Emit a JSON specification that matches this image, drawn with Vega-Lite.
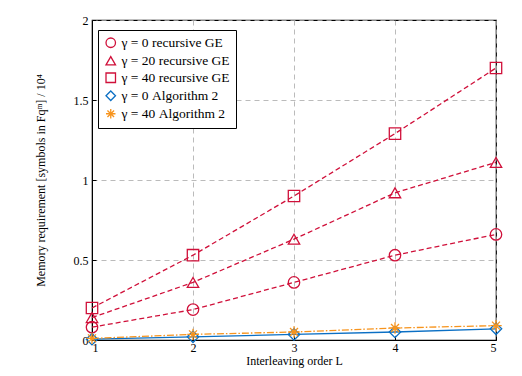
{
  "$schema": "https://vega.github.io/schema/vega-lite/v6.json",
  "width": 404,
  "height": 320,
  "autosize": {"type": "none"},
  "padding": {"left": 92, "top": 20, "right": 26, "bottom": 36},
  "background": "white",
  "config": {
    "font": "Liberation Serif",
    "view": {"stroke": "black", "strokeWidth": 1.2},
    "axis": {"labelFont": "Liberation Serif", "titleFont": "Liberation Serif", "labelFontSize": 12, "titleFontSize": 12, "titleFontWeight": "normal", "labelColor": "black", "titleColor": "black", "domainColor": "black", "tickColor": "black", "gridColor": "#aaaaaa", "gridDash": [5, 4], "gridWidth": 0.8}
  },
  "data": {"values": [
    {"L": 1, "v": 0.08, "s": "γ = 0 recursive GE"},
    {"L": 2, "v": 0.19, "s": "γ = 0 recursive GE"},
    {"L": 3, "v": 0.36, "s": "γ = 0 recursive GE"},
    {"L": 4, "v": 0.53, "s": "γ = 0 recursive GE"},
    {"L": 5, "v": 0.66, "s": "γ = 0 recursive GE"},
    {"L": 1, "v": 0.14, "s": "γ = 20 recursive GE"},
    {"L": 2, "v": 0.36, "s": "γ = 20 recursive GE"},
    {"L": 3, "v": 0.63, "s": "γ = 20 recursive GE"},
    {"L": 4, "v": 0.92, "s": "γ = 20 recursive GE"},
    {"L": 5, "v": 1.11, "s": "γ = 20 recursive GE"},
    {"L": 1, "v": 0.2, "s": "γ = 40 recursive GE"},
    {"L": 2, "v": 0.53, "s": "γ = 40 recursive GE"},
    {"L": 3, "v": 0.9, "s": "γ = 40 recursive GE"},
    {"L": 4, "v": 1.29, "s": "γ = 40 recursive GE"},
    {"L": 5, "v": 1.7, "s": "γ = 40 recursive GE"},
    {"L": 1, "v": 0.005, "s": "γ = 0 Algorithm 2"},
    {"L": 2, "v": 0.02, "s": "γ = 0 Algorithm 2"},
    {"L": 3, "v": 0.035, "s": "γ = 0 Algorithm 2"},
    {"L": 4, "v": 0.05, "s": "γ = 0 Algorithm 2"},
    {"L": 5, "v": 0.07, "s": "γ = 0 Algorithm 2"},
    {"L": 1, "v": 0.01, "s": "γ = 40 Algorithm 2"},
    {"L": 2, "v": 0.035, "s": "γ = 40 Algorithm 2"},
    {"L": 3, "v": 0.05, "s": "γ = 40 Algorithm 2"},
    {"L": 4, "v": 0.075, "s": "γ = 40 Algorithm 2"},
    {"L": 5, "v": 0.09, "s": "γ = 40 Algorithm 2"}
  ]},
  "encoding": {
    "x": {"field": "L", "type": "quantitative", "scale": {"domain": [1, 5], "nice": false},
      "axis": {"values": [1, 2, 3, 4, 5], "format": "d", "title": "Interleaving order L", "tickSize": -4, "labelPadding": 6, "titlePadding": 2}},
    "y": {"field": "v", "type": "quantitative", "scale": {"domain": [0, 2], "nice": false},
      "axis": {"values": [0, 0.5, 1, 1.5, 2], "format": "~g", "title": "Memory requirement [symbols in Fqᵐ] / 10⁴", "tickSize": -4, "labelPadding": 8, "titlePadding": 26}},
    "color": {"field": "s", "type": "nominal",
      "scale": {"domain": ["γ = 0 recursive GE", "γ = 20 recursive GE", "γ = 40 recursive GE", "γ = 0 Algorithm 2", "γ = 40 Algorithm 2"],
        "range": ["#d0103a", "#d0103a", "#d0103a", "#0b6fc4", "#f7941d"]},
      "legend": {"title": null, "orient": "none", "legendX": 6, "legendY": 10, "direction": "vertical", "strokeColor": "black", "fillColor": "white", "padding": 6, "labelFont": "Liberation Serif", "labelFontSize": 13.5, "labelColor": "black", "rowPadding": 2, "symbolSize": 90, "symbolStrokeWidth": 1.3, "symbolFillColor": "transparent", "symbolOpacity": 1}
    }
  },
  "layer": [
    {
      "transform": [{"filter": "indexof(datum.s, 'recursive') >= 0"}],
      "mark": {"type": "line", "strokeWidth": 1.3, "strokeDash": [5, 3]},
      "encoding": {"detail": {"field": "s"}}
    },
    {
      "transform": [{"filter": "datum.s == 'γ = 0 Algorithm 2'"}],
      "mark": {"type": "line", "strokeWidth": 1.3},
      "encoding": {}
    },
    {
      "transform": [{"filter": "datum.s == 'γ = 40 Algorithm 2'"}],
      "mark": {"type": "line", "strokeWidth": 1.3, "strokeDash": [7, 2, 1.5, 2]},
      "encoding": {}
    },
    {
      "mark": {"type": "point", "filled": false, "size": 130, "strokeWidth": 1.3, "opacity": 1},
      "encoding": {
        "shape": {"field": "s", "type": "nominal",
          "scale": {"domain": ["γ = 0 recursive GE", "γ = 20 recursive GE", "γ = 40 recursive GE", "γ = 0 Algorithm 2", "γ = 40 Algorithm 2"],
            "range": ["circle", "triangle-up", "square", "diamond", "M-1,0L1,0M0,-1L0,1M-0.7,-0.7L0.7,0.7M-0.7,0.7L0.7,-0.7"]}}
      }
    }
  ]
}
